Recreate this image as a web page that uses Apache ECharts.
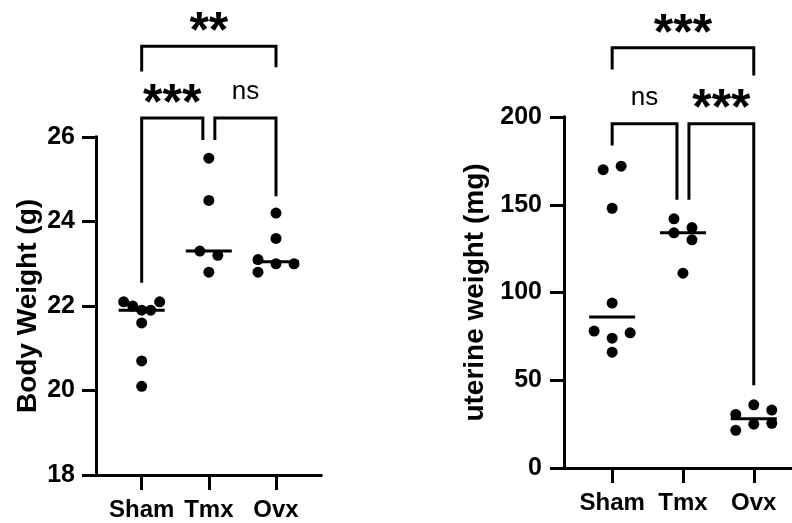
<!DOCTYPE html>
<html>
<head>
<meta charset="utf-8">
<script src="https://cdn.jsdelivr.net/npm/echarts@6/dist/echarts.min.js"></script>
<style>
html, body { margin: 0; padding: 0; background: #fff; }
#chart { width: 792px; height: 523px; }
</style>
</head>
<body>
<div id="chart"></div>
<script>
const categories = ['Sham', 'Tmx', 'Ovx']

// body weight (g)
const bodySham = [22.1, 22.0, 21.9, 21.9, 22.1, 21.6, 20.7, 20.1]
const bodyTmx = [25.5, 24.5, 23.3, 23.2, 22.8]
const bodyOvx = [24.2, 23.6, 23.1, 22.8, 23.0, 23.0]

// uterine weight (mg)
const uterineSham = [170, 172, 148, 94, 78, 74, 77, 66]
const uterineTmx = [142, 134, 137, 130, 111]
const uterineOvx = [30.5, 36, 33, 21.5, 25, 25.5]

const bodyTicks = [18, 20, 22, 24, 26]
const uterineTicks = [0, 50, 100, 150, 200]

// significance brackets: compared groups, bar height, end heights, label
const bodyBrackets = [
    { from: 0, to: 2, top: 28.15, ends: [27.55, 27.65], label: '**' },
    { from: 0, to: 1, top: 26.45, ends: [22.55, 25.93], label: '***' },
    { from: 1, to: 2, top: 26.45, ends: [25.93, 24.6], label: 'ns' }
]
const uterineBrackets = [
    { from: 0, to: 2, top: 239.4, ends: [227, 223.6], label: '***' },
    { from: 0, to: 1, top: 196.2, ends: [183.8, 152.8], label: 'ns' },
    { from: 1, to: 2, top: 196.2, ends: [152.8, 47.2], label: '***' }
]

const FONT = '"Liberation Sans", Arial, sans-serif'
const DOT_R = 5.5

const median = (arr) => {
    const s = arr.slice().sort((a, b) => a - b)
    const m = Math.floor(s.length / 2)
    return s.length % 2 ? s[m] : (s[m - 1] + s[m]) / 2
}

// scatter-dot layout like Prism: points close in height share a row,
// rows are spread sideways, lone points dodge if they would overlap
const swarmOffsets = (ys) => {
    const rowH = 10, step = 18, halfWidth = 18, dia = 10
    const order = ys.map((y, i) => i).sort((a, b) => ys[a] - ys[b] || a - b)
    const rows = []
    order.forEach((i) => {
        const row = rows[rows.length - 1]
        if (row && ys[i] - ys[row[0]] <= rowH) row.push(i)
        else rows.push([i])
    })
    const offs = new Array(ys.length)
    const placed = []
    rows.forEach((row) => {
        row.sort((a, b) => a - b)
        const n = row.length
        const s = n > 1 ? Math.min(step, (2 * halfWidth) / (n - 1)) : 0
        row.forEach((i, k) => {
            let x = (k - (n - 1) / 2) * s
            if (n === 1) {
                const cands = [0, -step, step, -2 * step, 2 * step]
                x = cands.find((c) => placed.every((p) => Math.hypot(p.x - c, p.y - ys[i]) >= dia))
                if (x === undefined) x = 0
            }
            offs[i] = x
        })
        row.forEach((i) => placed.push({ x: offs[i], y: ys[i] }))
    })
    return offs
}

const dotSeries = (groups, axisIndex) => groups.map((vals, g) => ({
    type: 'custom',
    xAxisIndex: axisIndex,
    yAxisIndex: axisIndex,
    z: 5,
    data: vals.map((v) => [g + 1, v]),
    renderItem: (params, api) => {
        const ys = vals.map((v) => api.coord([g + 1, v])[1])
        const offs = swarmOffsets(ys)
        const p = api.coord([api.value(0), api.value(1)])
        return {
            type: 'circle',
            shape: { cx: p[0] + offs[params.dataIndex], cy: p[1], r: DOT_R },
            style: { fill: '#000' }
        }
    }
}))

const medianSeries = (groups, axisIndex) => ({
    type: 'custom',
    xAxisIndex: axisIndex,
    yAxisIndex: axisIndex,
    z: 4,
    data: groups.map((vals, g) => [g + 1, median(vals)]),
    renderItem: (params, api) => {
        const p = api.coord([api.value(0), api.value(1)])
        return {
            type: 'line',
            shape: { x1: p[0] - 23, y1: p[1], x2: p[0] + 23, y2: p[1] },
            style: { stroke: '#000', lineWidth: 3 }
        }
    }
})

const bracketSeries = (brackets, axisIndex) => ({
    type: 'custom',
    xAxisIndex: axisIndex,
    yAxisIndex: axisIndex,
    clip: false,
    z: 3,
    data: brackets.map((b) => [b.from + 1, b.top]),
    renderItem: (params, api) => {
        const b = brackets[params.dataIndex]
        const inset = 6
        const x1 = api.coord([b.from + 1, b.top])[0] + (b.from === 1 ? inset : 0)
        const x2 = api.coord([b.to + 1, b.top])[0] - (b.to === 1 ? inset : 0)
        const yTop = api.coord([b.from + 1, b.top])[1]
        const yL = api.coord([b.from + 1, b.ends[0]])[1]
        const yR = api.coord([b.to + 1, b.ends[1]])[1]
        const stars = b.label !== 'ns'
        return {
            type: 'group',
            children: [
                {
                    type: 'polyline',
                    shape: { points: [[x1, yL], [x1, yTop], [x2, yTop], [x2, yR]] },
                    style: { stroke: '#000', lineWidth: 3, fill: null, lineJoin: 'miter' }
                },
                {
                    type: 'text',
                    x: (x1 + x2) / 2,
                    y: stars ? yTop - 13 : yTop - 26,
                    style: {
                        text: b.label,
                        font: stars ? `bold 50px ${FONT}` : `26px ${FONT}`,
                        fill: '#000',
                        align: 'center',
                        verticalAlign: 'middle'
                    }
                }
            ]
        }
    }
})

const xAxisBase = (gridIndex, min, max) => ({
    type: 'value',
    gridIndex,
    min,
    max,
    splitLine: { show: false },
    axisLine: { show: true, lineStyle: { color: '#000', width: 3, cap: 'square' } },
    axisTick: { show: true, customValues: [1, 2, 3], length: 15, lineStyle: { color: '#000', width: 3 } },
    axisLabel: {
        customValues: [1, 2, 3],
        formatter: (v) => categories[Math.round(v) - 1],
        color: '#000',
        fontFamily: FONT,
        fontSize: 24,
        fontWeight: 'bold',
        margin: 23
    }
})

const yAxisBase = (gridIndex, ticks, name, nameGap, margin) => ({
    type: 'value',
    gridIndex,
    min: ticks[0],
    max: ticks[ticks.length - 1],
    interval: ticks[1] - ticks[0],
    name,
    nameLocation: 'middle',
    nameGap,
    nameTextStyle: { color: '#000', fontFamily: FONT, fontSize: 28, fontWeight: 'bold' },
    splitLine: { show: false },
    axisLine: { show: true, lineStyle: { color: '#000', width: 3, cap: 'square' } },
    axisTick: { show: true, customValues: ticks, length: 14, lineStyle: { color: '#000', width: 3 } },
    axisLabel: {
        customValues: ticks,
        color: '#000',
        fontFamily: FONT,
        fontSize: 25,
        fontWeight: 'bold',
        margin
    }
})

const chart = echarts.init(document.getElementById('chart'))

chart.setOption({
    animation: false,
    backgroundColor: '#fff',
    grid: [
        { left: 96, right: 471, top: 137, bottom: 48 },
        { left: 564, right: 0, top: 117, bottom: 55 }
    ],
    xAxis: [
        xAxisBase(0, 0.32, 3.67),
        xAxisBase(1, 0.32, 3.54)
    ],
    yAxis: [
        yAxisBase(0, bodyTicks, 'Body Weight (g)', 54, 21),
        yAxisBase(1, uterineTicks, 'uterine weight (mg)', 75, 22)
    ],
    series: [
        bracketSeries(bodyBrackets, 0),
        medianSeries([bodySham, bodyTmx, bodyOvx], 0),
        ...dotSeries([bodySham, bodyTmx, bodyOvx], 0),
        bracketSeries(uterineBrackets, 1),
        medianSeries([uterineSham, uterineTmx, uterineOvx], 1),
        ...dotSeries([uterineSham, uterineTmx, uterineOvx], 1)
    ]
})
</script>
</body>
</html>
